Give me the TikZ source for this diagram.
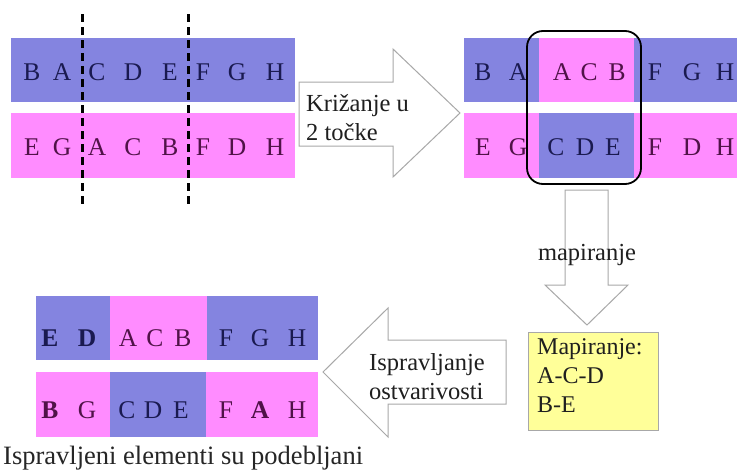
\documentclass[tikz,border=0pt]{standalone}
\usepackage{fontspec}
\setmainfont{Liberation Serif}
\definecolor{barblue}{HTML}{8484E0}
\definecolor{barpink}{HTML}{FF8CFF}
\definecolor{txtblue}{HTML}{1A1A50}
\definecolor{txtpink}{HTML}{501248}
\definecolor{arrowgray}{HTML}{A8A8A8}
\definecolor{mapyellow}{HTML}{FFFF99}
\begin{document}
\begin{tikzpicture}[x=1pt,y=-1pt,
  lb/.style={font=\fontsize{25.5}{28}\selectfont,text=txtblue,inner sep=0pt,anchor=center},
  lp/.style={font=\fontsize{25.5}{28}\selectfont,text=txtpink,inner sep=0pt,anchor=center},
  blockarrow/.style={draw=arrowgray,fill=white,line width=1pt,line join=miter},
  lbl/.style={font=\fontsize{24.5}{29}\selectfont,align=left,inner sep=0pt,text=black!88},
  cut/.style={draw=black,line width=3pt,dash pattern=on 8pt off 5pt}]
\useasboundingbox (0,0) rectangle (737,471);
\fill[white] (0,0) rectangle (737,471);
% ---------- left parents ----------
\fill[barblue] (11,38) rectangle (295,102);
\fill[barpink] (11,113) rectangle (295,178);
\foreach \ch/\x [count=\i] in {B/32,A/62,C/97,D/133,E/170,F/203,G/237,H/275}
  \node[lb] (p1\i) at (\x,72) {\ch};
\foreach \ch/\x [count=\i] in {E/32,G/62,A/97,C/133,B/170,F/203,D/237,H/275}
  \node[lp] (p2\i) at (\x,147) {\ch};
\coordinate (c1t) at (82,14); \coordinate (c1b) at (82,204);
\coordinate (c2t) at (188,14); \coordinate (c2b) at (188,204);
\draw[cut] (c1t) -- (c1b);
\draw[cut] (c2t) -- (c2b);
% ---------- crossover arrow ----------
\draw[blockarrow] (299,82) -- (393,82) -- (393,49) -- (460,113) -- (393,177) -- (393,146) -- (299,146) -- cycle;
\node[lbl,anchor=west] (kriz) at (306,118) {Križanje u\\2 točke};
% ---------- right children ----------
\fill[barblue] (464,38) rectangle (737,102);
\fill[barpink] (539,38) rectangle (634,102);
\fill[barpink] (464,113) rectangle (737,178);
\fill[barblue] (539,113) rectangle (634,178);
\foreach \ch/\x/\s [count=\i] in {B/483/lb,A/518/lb,A/562/lp,C/589/lp,B/617/lp,F/655/lb,G/692/lb,H/725/lb}
  \node[\s] (k1\i) at (\x,72) {\ch};
\foreach \ch/\x/\s [count=\i] in {E/483/lp,G/518/lp,C/556/lb,D/585/lb,E/613/lb,F/655/lp,D/692/lp,H/725/lp}
  \node[\s] (k2\i) at (\x,147) {\ch};
\draw[black,line width=1.8pt,rounded corners=16pt] (527,31) rectangle (641,184);
% ---------- mapping arrow ----------
\draw[blockarrow] (565,190) -- (608,190) -- (608,285) -- (628,285) -- (587,325) -- (545,285) -- (565,285) -- cycle;
\node[lbl,inner sep=1pt] (mapl) at (587,255) {mapiranje};
% ---------- mapping box ----------
\node[draw=arrowgray,fill=mapyellow,line width=1pt,minimum width=130pt,minimum height=98pt,anchor=north west,inner sep=0pt] (mapbox) at (528,332) {};
\node[lbl,anchor=north west,font=\fontsize{24}{29}\selectfont] (maptxt) at (537,338) {Mapiranje:\\A-C-D\\B-E};
% ---------- repair arrow ----------
\draw[blockarrow] (506,340) -- (388,340) -- (388,308) -- (323,372) -- (388,437) -- (388,404) -- (506,404) -- cycle;
\node[lbl,anchor=west] (isp) at (369,377) {Ispravljanje\\ostvarivosti};
% ---------- repaired children ----------
\fill[barblue] (36,296) rectangle (110,360);
\fill[barpink] (110,296) rectangle (207,360);
\fill[barblue] (207,296) rectangle (318,360);
\fill[barpink] (36,372) rectangle (110,437);
\fill[barblue] (110,372) rectangle (206,437);
\fill[barpink] (206,372) rectangle (318,437);
\foreach \ch/\x/\s [count=\i] in {\textbf{E}/50/lb,\textbf{D}/87/lb,A/128/lp,C/155/lp,B/183/lp,F/226/lb,G/260/lb,H/297/lb}
  \node[\s] (d1\i) at (\x,338) {\ch};
\foreach \ch/\x/\s [count=\i] in {\textbf{B}/50/lp,G/87/lp,C/127/lb,D/153/lb,E/181/lb,F/226/lp,\textbf{A}/260/lp,H/297/lp}
  \node[\s] (d2\i) at (\x,410) {\ch};
\node[font=\fontsize{26.5}{30}\selectfont,inner sep=0pt,anchor=west,text=black!85] (cap) at (3,458) {Ispravljeni elementi su podebljani};
\end{tikzpicture}
\end{document}
